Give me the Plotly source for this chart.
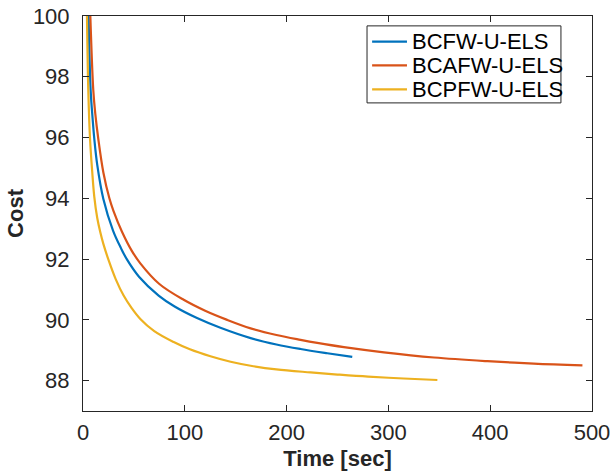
import plotly.graph_objects as go

series_names = ["BCFW-U-ELS", "BCAFW-U-ELS", "BCPFW-U-ELS"]
series_colors = ["#0072BD", "#D95319", "#EDB120"]

bcfw_time = [5.5, 7.5, 9.5, 11.1, 14, 20, 29.5, 37.3, 43.3, 55, 74.3, 90, 112, 135,
             164.7, 190, 213.7, 240, 264.5]
bcfw_cost = [100, 97.56, 96.6, 95.96, 95.1, 93.98, 92.94, 92.36, 91.98, 91.42, 90.8, 90.44,
             90.06, 89.74, 89.4, 89.19, 89.04, 88.9, 88.78]

bcafw_time = [7.2, 10.1, 12, 15.0, 20, 25.9, 30, 38.3, 47.8, 56.3, 75, 98.9, 120, 141.6,
              164.7, 190, 213.7, 230.1, 256.3, 295.6, 344.8, 397.2, 442.8, 490.6]
bcafw_cost = [100, 97.56, 96.8, 95.96, 94.85, 94.0, 93.58, 92.9, 92.28, 91.86, 91.18, 90.66,
              90.3, 90.0, 89.72, 89.5, 89.34, 89.24, 89.1, 88.93, 88.76, 88.64, 88.56, 88.5]

bcpfw_time = [3.9, 5.2, 6.9, 9, 11.1, 14, 17, 20, 25.5, 32, 39.9, 48, 56.3, 70, 89.1, 105,
              125.2, 145, 164.7, 190, 223.5, 250, 280, 315, 348.1]
bcpfw_cost = [100, 97.56, 95.96, 94.9, 94.05, 93.35, 92.88, 92.5, 91.93, 91.35, 90.8, 90.38,
              90.03, 89.63, 89.27, 89.03, 88.8, 88.62, 88.49, 88.37, 88.27, 88.2, 88.13, 88.07,
              88.02]

x_ticks = [0, 100, 200, 300, 400, 500]
y_ticks = [88, 90, 92, 94, 96, 98, 100]

times = [bcfw_time, bcafw_time, bcpfw_time]
costs = [bcfw_cost, bcafw_cost, bcpfw_cost]

FONT = "Arial, Liberation Sans, Helvetica, sans-serif"
AXC = "#262626"

fig = go.Figure()
for name, color, t, c in zip(series_names, series_colors, times, costs):
    fig.add_trace(go.Scatter(x=t, y=c, mode="lines", name=name, showlegend=False,
                             line=dict(color=color, width=2.2, shape="spline", smoothing=1.0)))

axis_common = dict(showgrid=False, zeroline=False, showline=True, linecolor=AXC, linewidth=1,
                   mirror="ticks", ticks="inside", ticklen=6, tickcolor=AXC, tickwidth=1,
                   automargin=False, ticklabeloverflow="allow",
                   tickfont=dict(family=FONT, size=22, color=AXC))

fig.update_xaxes(range=[0, 500], tickvals=x_ticks, ticktext=[str(v) for v in x_ticks],
                 ticklabelstandoff=2,
                 title=dict(text="<b>Time [sec]</b>", font=dict(family=FONT, size=22, color=AXC),
                            standoff=6),
                 **axis_common)
fig.update_yaxes(range=[87, 100], tickvals=y_ticks, ticktext=[str(v) for v in y_ticks],
                 ticklabelstandoff=8,
                 title=dict(text="<b>Cost</b>", font=dict(family=FONT, size=22, color=AXC),
                            standoff=3),
                 **axis_common)

# legend drawn in paper coordinates (box, line samples, labels)
L_X0, L_X1, L_Y0, L_Y1 = 0.558, 0.939, 0.780, 0.975
row_y = [0.935, 0.8752, 0.8144]
fig.add_shape(type="rect", xref="paper", yref="paper", x0=L_X0, x1=L_X1, y0=L_Y0, y1=L_Y1,
              line=dict(color=AXC, width=1), fillcolor="white", layer="above")
for name, color, ry in zip(series_names, series_colors, row_y):
    fig.add_shape(type="line", xref="paper", yref="paper", x0=0.568, x1=0.6365, y0=ry, y1=ry,
                  line=dict(color=color, width=2.2), layer="above")
    fig.add_annotation(xref="paper", yref="paper", x=0.6424, y=ry, xanchor="left",
                       yanchor="middle", text=name, showarrow=False,
                       font=dict(family=FONT, size=22, color="#000000"))

fig.update_layout(
    width=613, height=474,
    margin=dict(l=83, r=21, t=16, b=63),
    plot_bgcolor="white", paper_bgcolor="white",
    font=dict(family=FONT, color=AXC),
    showlegend=False,
)

fig.write_html("out.html", config={"displayModeBar": False},
               post_script="document.body.style.margin='0';document.body.style.overflow='hidden';")
